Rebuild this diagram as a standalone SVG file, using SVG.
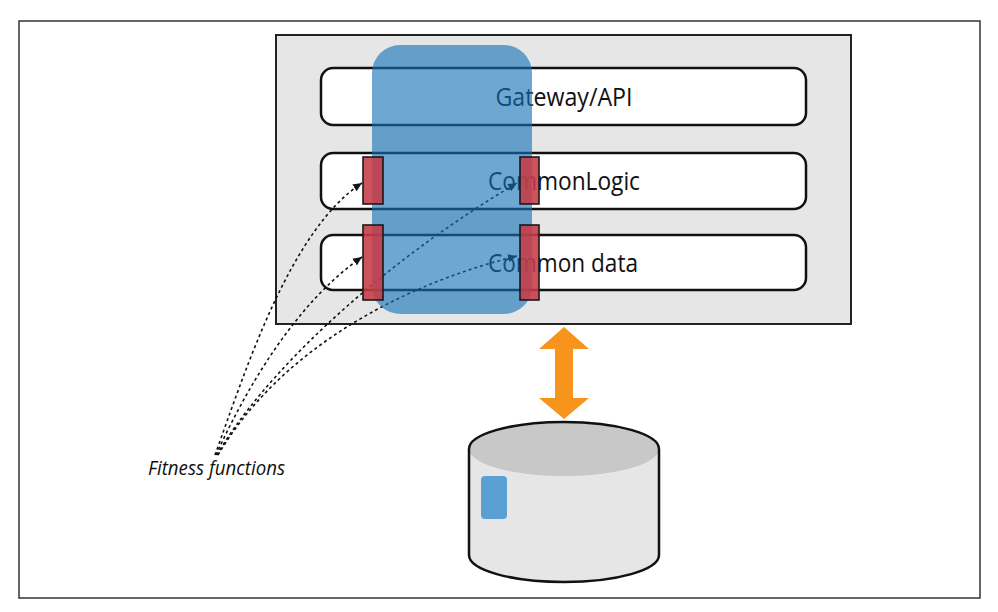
<svg xmlns="http://www.w3.org/2000/svg" width="998" height="612" viewBox="0 0 998 612">
<defs>
<style>
.row{fill:#ffffff;stroke:#111;stroke-width:2.5}
.lbl{font-family:"Open Sans","Liberation Sans",sans-serif;font-size:26px;fill:#111;text-anchor:middle}
.ff{stroke:#111;stroke-width:1.6;stroke-dasharray:3 3;fill:none;marker-end:url(#ah)}
.red{fill:#c63a45;fill-opacity:0.88;stroke:#1a1a1a;stroke-width:1.6}
</style>
<marker id="ah" markerWidth="10" markerHeight="10" refX="9" refY="5" orient="auto" markerUnits="userSpaceOnUse">
<path d="M0,1 L9,5 L0,9 Z" fill="#111"/>
</marker>
</defs>
<rect x="19" y="21" width="961" height="577" fill="#fff" stroke="#333" stroke-width="1.5"/>
<g id="container">
<rect x="276" y="35" width="575" height="289" fill="#e6e6e6" stroke="#222" stroke-width="2"/>
</g>
<g id="gateway">
<rect class="row" x="321" y="68" width="485" height="57" rx="12"/>
<text class="lbl" x="564" y="106" textLength="137" lengthAdjust="spacingAndGlyphs">Gateway/API</text>
</g>
<g id="commonlogic">
<rect class="row" x="321" y="153" width="485" height="56" rx="12"/>
<text class="lbl" x="564" y="190" textLength="152" lengthAdjust="spacingAndGlyphs">CommonLogic</text>
</g>
<g id="commondata">
<rect class="row" x="321" y="235" width="485" height="55" rx="12"/>
<text class="lbl" x="563" y="272" textLength="150" lengthAdjust="spacingAndGlyphs">Common data</text>
</g>
<g id="connectors">
<path class="ff" d="M215,455 C245,372 290,230 362,183"/>
<path class="ff" d="M216,455 C250,380 300,300 362,257"/>
<path class="ff" d="M217,455 C260,380 370,270 517,183"/>
<path class="ff" d="M218,455 C280,350 400,285 517,256"/>
</g>
<g id="slice">
<rect x="372" y="45" width="160" height="269" rx="28" fill="#1273b4" fill-opacity="0.62"/>
</g>
<g id="fitness-checks">
<rect class="red" x="363" y="157" width="20" height="47"/>
<rect class="red" x="363" y="225" width="20" height="75"/>
<rect class="red" x="520" y="157" width="19" height="47"/>
<rect class="red" x="520" y="225" width="19" height="75"/>
</g>
<g id="db-arrow">
<polygon points="564,327 589,349 573,349 573,398 589,398 564,419 539,398 555,398 555,349 539,349" fill="#f7941d"/>
</g>
<g id="database">
<path d="M469,449 A95,27 0 0 1 659,449 L659,555 A95,27 0 0 1 469,555 Z" fill="#e6e6e6"/>
<ellipse cx="564" cy="449" rx="95" ry="27" fill="#c8c8c8"/>
<path d="M469,449 A95,27 0 0 1 659,449 L659,555 A95,27 0 0 1 469,555 Z" fill="none" stroke="#111" stroke-width="2.5"/>
<rect x="481" y="476" width="26" height="43" rx="4" fill="#5aa0d2"/>
</g>
<g id="fitness-label">
<text x="148" y="475" font-family="'Open Sans','Liberation Sans',sans-serif" font-size="20" font-style="italic" fill="#111" textLength="137" lengthAdjust="spacingAndGlyphs">Fitness functions</text>
</g>
</svg>
